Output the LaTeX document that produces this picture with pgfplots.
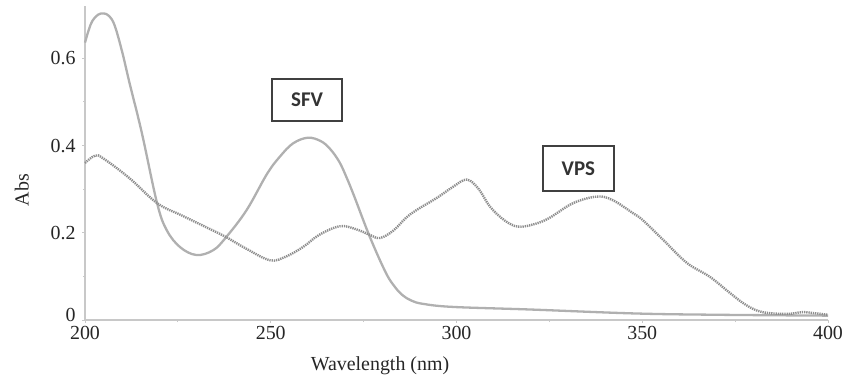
\documentclass[border=0pt]{standalone}
\usepackage{pgfplots}
\pgfplotsset{compat=1.18}
\usepackage{fontspec}
\setmainfont{Liberation Serif}
\newfontfamily\boxfont{Carlito}
\definecolor{axgray}{HTML}{C8C8C8}
\definecolor{sfvgray}{HTML}{B0B0B0}
\definecolor{vpsgray}{HTML}{8E8E8E}
\begin{document}
\begin{tikzpicture}
\useasboundingbox (0,0) rectangle (843bp,383bp);
\begin{axis}[
  at={(85bp,63bp)}, anchor=south west,
  scale only axis, width=743bp, height=314bp,
  xmin=200, xmax=400, ymin=0, ymax=0.72,
  axis lines=left,
  axis line style={-, draw=axgray, line width=2.5bp},
  xtick={200,250,300,350,400},
  minor xtick={225,275,325,375},
  ytick={0,0.2,0.4,0.6},
  yticklabels={\raisebox{-1.5bp}[0pt][0pt]{0},0.2,0.4,0.6},
  minor ytick={0.1,0.3,0.5},
  tick align=outside,
  major tick length=3bp, minor tick length=2bp,
  every tick/.style={draw=axgray, line width=1bp},
  /pgf/number format/assume math mode=true,
  tick label style={font=\fontsize{20}{23}\selectfont, text=black!85},
  yticklabel style={xshift=-3bp},
  xlabel={Wavelength (nm)},
  ylabel={Abs},
  label style={font=\fontsize{20}{23}\selectfont, text=black!85},
  x label style={at={(axis description cs:0.397,-0.105)}, anchor=north},
  y label style={at={(axis description cs:-0.085,0.414)}, anchor=center},
  clip=false,
]
% SFV
\addplot[color=sfvgray, line width=2.3bp, smooth, tension=0.6] coordinates {
(200,0.636) (201,0.665) (202,0.686) (203.5,0.700) (205,0.703) (206.5,0.697)
(208,0.675) (210,0.615) (212,0.543) (215.3,0.429) (219.4,0.268) (222,0.206)
(225.6,0.167) (230,0.149) (234.5,0.160) (238,0.190) (243.5,0.252) (249,0.335)
(252.5,0.375) (256,0.405) (260,0.418) (263.5,0.410) (266,0.392) (268.5,0.362)
(270.5,0.325) (272.5,0.283) (276.7,0.190) (281,0.108) (283.5,0.075) (285.6,0.056)
(288,0.044) (291,0.037) (299,0.030) (320,0.024) (348,0.015) (370,0.012) (400,0.010)
};
% VPS
\addplot[color=vpsgray, line width=2.4bp, dash pattern=on 1.3bp off 0.9bp, smooth, tension=0.6] coordinates {
(200,0.360) (202.7,0.377) (205,0.370) (212,0.325) (219.4,0.268) (226,0.240)
(232.8,0.212) (238,0.190) (243.5,0.163) (249.8,0.137) (254,0.145) (258.8,0.168)
(263,0.195) (268.6,0.215) (273,0.208) (276.7,0.195) (279.4,0.188) (283,0.205)
(287.5,0.242) (294.7,0.280) (299,0.305) (302.8,0.322) (306,0.300) (309,0.260)
(313,0.228) (316.6,0.214) (321,0.220) (325,0.234) (331.4,0.268) (337.8,0.283)
(342,0.275) (347.5,0.245) (350,0.230) (355.6,0.184) (362,0.131) (368.2,0.099)
(373.6,0.062) (378,0.034) (382.4,0.018) (389,0.014) (393,0.018) (396,0.016) (400,0.012)
};
\node[draw=black!75, line width=1.5bp, fill=white, minimum width=70bp, minimum height=42bp,
  font=\boxfont\bfseries\fontsize{21}{24}\selectfont, text=black!80, inner sep=0pt]
  at (axis cs:259.8,0.505) {SFV};
\node[draw=black!75, line width=1.5bp, fill=white, minimum width=71bp, minimum height=45bp,
  font=\boxfont\bfseries\fontsize{21}{24}\selectfont, text=black!80, inner sep=0pt]
  at (axis cs:332.8,0.347) {VPS};
\end{axis}
\end{tikzpicture}
\end{document}
